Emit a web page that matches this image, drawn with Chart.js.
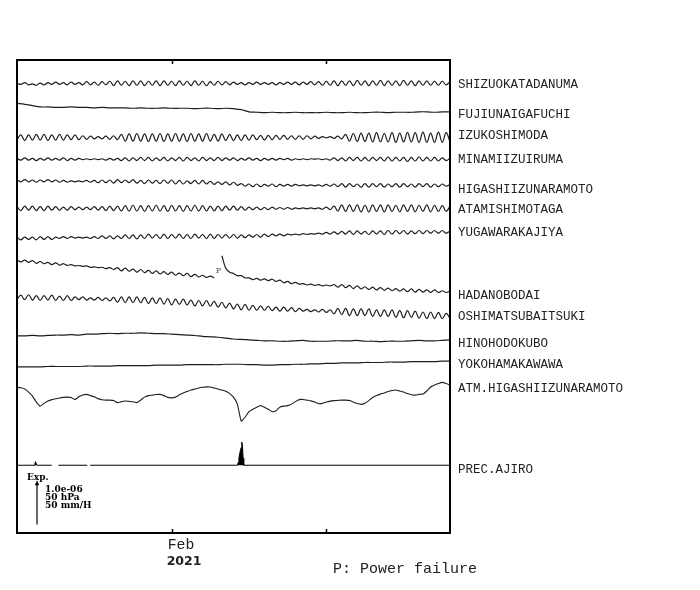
<!DOCTYPE html>
<html>
<head>
<meta charset="utf-8">
<script src="https://cdn.jsdelivr.net/npm/chart.js@4/dist/chart.umd.min.js"></script>
<style>
  html, body { margin: 0; padding: 0; background: #fff; }
  canvas { display: block; }
</style>
</head>
<body>
<canvas id="chart-strain" width="700" height="590"></canvas>
<script>
/* ====================================================
   Strain records, Izu / Kanagawa stations, Jan-Feb 2021
   ==================================================== */

// Time axis: days since 2021-01-01 00:00 (Feb 1 = 31)
const DAY_START = 21;
const DAY_END = 49;
const TIDE_STEP = 0.25;   // 6 h samples
const SLOW_STEP = 0.5;    // 12 h samples

const tickDays = [31, 41];
const tickLabels = ['Feb', ''];
const yearLabel = '2021';

const stationNames = [
    'SHIZUOKATADANUMA', 'FUJIUNAIGAFUCHI', 'IZUKOSHIMODA', 'MINAMIIZUIRUMA',
    'HIGASHIIZUNARAMOTO', 'ATAMISHIMOTAGA', 'YUGAWARAKAJIYA', 'HADANOBODAI',
    'OSHIMATSUBAITSUKI', 'HINOHODOKUBO', 'YOKOHAMAKAWAWA', 'ATM.HIGASHIIZUNARAMOTO',
    'PREC.AJIRO'
];

// Strain, units of 1e-8 (extension up), 6 h samples
const shizuokaTadanuma = [
    0,-2,2,-3,-1,-4,1,-3,2,-2,3,-2,2,-3,3,-2,2,-3,4,-3,3,-4,4,-3,5,
    -5,6,-4,5,-5,6,-4,6,-5,5,-4,6,-5,6,-4,5,-5,6,-4,5,-5,6,-4,5,-5,4,-4,5,-3,4,
    -3,3,-2,2,-3,2,-2,3,-2,2,-2,2,-3,2,-2,3,-2,3,-3,3,-2,4,-3,4,-4,
    5,-4,6,-5,6,-4,6,-5,7,-4,6,-5,6,-4,7,-5,6,-4,6,-5,7,-4,6,-5,6,-4,6,-4,5,-4,5,-3,4
];
// 12 h samples
const fujiunaigafuchi = [
    0,-2,-5,-8,-8,-9,-9,-8,-9,-9,-10,-9,-10,-10,-10,-11,-10,-11,-11,-10,
    -11,-11,-11,-12,-11,-11,-12,-11,-12,-14,-19,-20,-21,-20,-21,-21,-20,-21,-21,-21,
    -20,-21,-21,-20,-21,-21,-20,-20,-21,-20,-20,-20,-19,-19,-20,-19,-19
];
const izukoshimoda = [
    -5,6,-7,6,-6,7,-6,7,-7,6,-6,7,-6,6,-5,6,-5,
    4,-4,3,-3,2,-3,3,-4,4,-5,
    7,-8,8,-8,9,-8,8,-9,8,-8,9,-9,8,-8,9,-8,8,-9,9,-8,8,-8,9,-8,7,-8,8,-7,7,-7,6,-7,6,-6,
    6,-5,5,-6,5,-5,5,-4,5,-4,4,-4,4,-4,4,
    -3,3,-2,2,-1,2,-2,3,-3,
    7,-8,9,-9,10,-9,10,-10,11,-10,9,-10,11,-11,10,-10,11,-10,11,-11,12,-11,10,-11,12,-11,11,-10
];
const minamiizuiruma = [
    2,-2,3,-2,2,-3,2,-2,3,-2,2,-2,3,-3,2,-2,2,
    -1,1,-1,1,-1,1,-2,2,-2,2,
    -3,3,-4,3,-3,4,-3,4,-4,3,-3,4,-4,3,-3,4,-4,4,-3,3,-4,4,-3,3,-3,4,-3,3,-2,3,-3,2,-2,3,
    -2,2,-3,2,-2,2,-2,2,-1,2,-2,1,
    -1,1,-1,1,0,1,-1,1,-2,
    3,-3,3,-4,4,-3,4,-4,4,-4,4,-3,4,-4,5,-4,4,-4,4,-5,4,-4,5,-4,4,-4,4,-4,3,-3,2
];
const higashiizunaramoto = [
    2,-2,3,-2,2,-3,2,-2,3,-2,2,
    -3,1,-3,0,-2,0,-2,1,-3,1,
    -4,2,-4,2,-5,3,-4,2,-4,3,
    -5,1,-6,2,-5,1,-6,2,-5,2,
    -7,1,-7,0,-6,1,-7,1,
    -7,-1,-8,-2,-8,-2,
    -9,-3,
    -10,-6,-12,
    -7,-13,-7,-13,-8,-12,-7,-13,-8,-12,-8,-12,-8,
    -11,-9,-11,-9,-11,-9,-12,-8,-12,
    -7,-13,-6,-14,-6,-13,-7,-14,-6,-14,-6,-13,-6,-14,-7,-13,-6,-14,-6,-13,-7,-14,-6,-13,-6,-14,-7,-13,-7,-12,-8
];
const atamishimotaga = [
    4,-5,5,-4,5,-5,4,-5,5,-4,4,-4,3,-4,4,-3,3,-3,3,-3,4,
    -4,4,-5,5,-5,5,
    -6,6,-6,7,-6,6,-7,6,-6,7,-6,6,-7,7,-6,6,-7,6,-6,7,-6,6,-6,5,-6,5,-5,5,-4,5,-4,4,-4,3,
    -3,3,-3,2,-3,3,-2,2,-2,2,-2,1,
    -1,1,-1,1,-1,1,-2,3,-3,
    5,-6,8,-7,8,-7,8,-8,7,-8,8,-7,8,-8,8,-7,7,-8,8,-7,8,-8,7,-7,8,-8,7,-7,6,-7,5
];
const yugawarakajiya = [
    3,-3,3,-2,3,-3,
    4,-2,4,-2,3,
    0,4,0,4,1,3,1,3,0,4,
    0,6,0,6,-1,6,
    0,8,0,8,-1,8,
    0,10,1,9,0,10,0,9,1,10,0,9,0,10,1,9,0,10,0,9,1,9,1,9,1,8,2,8,
    3,9,3,10,4,10,6,10,6,10,8,10,8,11,9,11,10,12,10,14,10,15,10,
    16,10,17,9,17,10,16,9,17,10,17,9,
    18,10,18,11,18,10,17,11,18,11,
    18,12,18,12,18,12,17
];
// null = power failure (P)
const hadanobodai = [
    2,-3,1,-4,0,-6,-2,-7,-4,-9,-5,-10,-7,-11,-9,
    -12,-11,-13,-12,-15,-14,-16,-15,-18,-16,-20,
    -16,-23,-17,-24,-19,-26,-20,-27,-22,-29,-23,-30,-25,-31,-26,-33,-28,-34,-29,-36,-31,-37,-33,-38,-35,-39,
    null,
    11,-17,-26,-29,-34,-34,-39,-39,
    -43,-40,-44,-41,-45,-42,-47,-44,-50,-47,-52,-49,
    -53,-52,-55,-53,-56,-54,-57,-55,-57,
    -54,-60,-54,-61,-56,-63,-57,-64,-59,-65,-60,-66,-61,-67,-62,-68,-63,-69,-64,-70,-64,-71,-65,-71,-66,-72,-66,-72,-68,-72,-69
];
const oshimatsubaitsuki = [
    -5,5,-5,6,-6,4,-7,4,-6,5,-7,3,-7,4,-7,
    1,-5,1,-6,-1,-6,0,-7,-1,-8,0,
    -11,1,-12,1,-12,1,-12,0,-14,-1,-14,-1,-15,-3,-17,-4,-16,-4,-17,-6,-19,-7,-19,-7,-20,-9,-22,-11,-24,-13,-26,-15,-28,-16,-29,
    -18,-29,-19,-29,-20,-30,-22,-31,-22,-31,-23,-32,
    -25,-31,-27,-32,-28,-33,-27,-34,-28,
    -37,-25,-39,-25,-41,-26,-41,-26,-41,-26,-43,-28,-43,-28,-43,-28,-45,-30,-46,-30,-45,-31,-47,-33,-48,-33,-48,-34,-48,-36,-47
];
// 12 h samples
const hinohodokubo = [
    0,0,1,0,1,2,2,3,2,4,4,5,6,5,6,6,7,6,5,5,
    4,3,2,1,-1,-2,-3,-5,-7,-8,-9,-10,-11,-11,-12,-12,-11,-10,-12,-12,
    -12,-11,-11,-11,-10,-12,-12,-13,-12,-12,-12,-11,-10,-11,-11,-10,-9
];
const yokohamakawawa = [
    0,0,0,0,1,1,1,1,1,2,2,2,2,3,3,3,3,3,4,4,
    4,4,5,5,5,5,5,6,6,6,5,5,4,4,5,5,6,6,7,7,
    8,8,9,9,9,10,10,10,11,11,11,12,12,12,12,13,13
];
// Atmospheric pressure, hPa, 6 h samples
const atmHigashiizu = [
    1016.5,1015.9,1014.5,1011.1,1006.6,999.8,995.2,998.3,1000.9,1002.6,
    1003.5,1004.5,1005.1,1005.4,1004.9,1002.6,1005.8,1007.7,1008.5,1007.1,
    1005.7,1003.7,1002.4,1002.0,1002.0,1001.5,999.2,1000.3,1001.1,1000.6,
    1000.1,999.2,1002.0,1005.4,1007.1,1007.7,1008.3,1008.5,1007.1,1005.1,
    1004.6,1005.4,1008.0,1010.0,1011.7,1013.4,1014.5,1015.7,1016.5,1017.0,
    1016.8,1015.7,1014.5,1013.4,1012.0,1009.4,1005.4,997.5,978.2,982.7,
    989.0,991.8,994.1,995.8,994.1,991.8,989.0,990.1,994.1,995.2,
    995.8,997.5,1000.3,1002.6,1002.8,1002.0,1001.2,999.8,998.1,998.3,
    999.8,1000.9,1001.5,1001.7,1002.0,1002.0,1001.5,999.8,998.1,997.2,
    998.6,1001.5,1004.9,1007.1,1008.8,1010.0,1011.7,1012.8,1013.4,1012.3,
    1011.1,1009.4,1008.0,1007.7,1008.5,1008.8,1012.3,1016.8,1019.1,1020.8,
    1022.1,1020.8,1019.1
];
const ATM_REF = 1016;

// Precipitation, mm/H (null = missing)
const precDay  = [21, 22.10, 22.16, 22.20, 22.24, 22.30, 23.25, 23.30, 23.68, 25.54, 25.60, 25.73,
                  35.25, 35.30, 35.35, 35.40, 35.45, 35.50, 35.54, 35.58, 35.62, 35.66, 49];
const precRate = [0, 0, 2, 4, 2, 0, 0, null, 0, 0, null, 0,
                  0, 3, 8, 13, 17, 20, 26, 22, 8, 0, 0];

const powerFailureDay = 34.0;

// ---- layout: trace rows (axis units, 100 = 1.0e-06 = 50 hPa = 50 mm/H)
const Y_MAX = 1068;
const rowBase = [53, 98, 175, 224, 273, 335, 403, 453, 536, 623, 693, 740, 915];
const labelNudge = [1, 3, -1.5, 0.7, 4.7, 1.5, 0.8, 4.4, 1.3, 3.5, 2.9, 2.3, 4];
const LEGEND_BASE = 1049;

const strainSeries = [
    shizuokaTadanuma, fujiunaigafuchi, izukoshimoda, minamiizuiruma,
    higashiizunaramoto, atamishimotaga, yugawarakajiya, hadanobodai,
    oshimatsubaitsuki, hinohodokubo, yokohamakawawa
];
const strainStep = [TIDE_STEP, SLOW_STEP, TIDE_STEP, TIDE_STEP, TIDE_STEP, TIDE_STEP,
                    TIDE_STEP, TIDE_STEP, TIDE_STEP, SLOW_STEP, SLOW_STEP];

const LINE_COLOR = '#1e1e1e';

function buildPoints(values, step, base, toUnits) {
    return values.map((v, i) => ({
        x: DAY_START + i * step,
        y: v === null ? null : base - toUnits(v)
    }));
}

const datasets = [];
strainSeries.forEach((vals, k) => {
    datasets.push({
        label: stationNames[k],
        data: buildPoints(vals, strainStep[k], rowBase[k], v => v),
        borderColor: LINE_COLOR,
        borderWidth: 1.2,
        tension: strainStep[k] === TIDE_STEP ? 0.4 : 0.3,
        fill: false
    });
});

datasets.push({
    label: stationNames[11],
    data: buildPoints(atmHigashiizu, TIDE_STEP, rowBase[11], p => (p - ATM_REF) * 2),
    borderColor: LINE_COLOR,
    borderWidth: 1.1,
    tension: 0.15,
    fill: false
});

datasets.push({
    label: stationNames[12],
    data: precDay.map((d, i) => ({ x: d, y: precRate[i] === null ? null : rowBase[12] - precRate[i] * 2 })),
    borderColor: '#000',
    backgroundColor: '#000',
    borderWidth: 1,
    tension: 0,
    fill: { value: rowBase[12] },
    isRain: true
});

// level used to place the station name at the right end of a trace
function lastLevel(ds, k) {
    if (ds.isRain) return rowBase[k];
    const ys = ds.data.map(p => p.y).filter(v => v !== null).slice(-8);
    return ys.reduce((s, v) => s + v, 0) / ys.length;
}

/**
 * Frame, inner ticks, station names, scale legend and notes
 */
const overlay = {
    id: 'overlay',
    beforeDraw(chart) {
        const ctx = chart.ctx;
        ctx.save();
        ctx.fillStyle = '#fff';
        ctx.fillRect(0, 0, chart.width, chart.height);
        ctx.restore();
    },
    afterDraw(chart) {
        const { ctx, chartArea: a, scales: { x, y } } = chart;
        ctx.save();

        // frame
        ctx.strokeStyle = '#000';
        ctx.lineWidth = 2;
        ctx.strokeRect(a.left, a.top, a.right - a.left, a.bottom - a.top);

        // ticks (inside, top and bottom)
        ctx.lineWidth = 1.5;
        tickDays.forEach(d => {
            const px = Math.round(x.getPixelForValue(d)) + 0.5;
            ctx.beginPath();
            ctx.moveTo(px, a.top); ctx.lineTo(px, a.top + 4);
            ctx.moveTo(px, a.bottom); ctx.lineTo(px, a.bottom - 4);
            ctx.stroke();
        });

        // tick labels
        ctx.fillStyle = '#222';
        ctx.textBaseline = 'alphabetic';
        ctx.textAlign = 'left';
        ctx.font = '14.8px "Liberation Mono", "DejaVu Sans Mono", monospace';
        tickDays.forEach((d, i) => {
            if (tickLabels[i]) ctx.fillText(tickLabels[i], x.getPixelForValue(d) - 4, 548.5);
        });
        ctx.font = 'bold 12.5px "DejaVu Sans", sans-serif';
        ctx.fillText(yearLabel, x.getPixelForValue(tickDays[0]) - 5, 565);

        ctx.font = '15px "Liberation Mono", "DejaVu Sans Mono", monospace';
        ctx.fillText('P: Power failure', 333, 573);

        // station names at the right end of each trace
        ctx.font = '12.5px "Liberation Mono", "DejaVu Sans Mono", monospace';
        ctx.textBaseline = 'middle';
        chart.data.datasets.forEach((ds, k) => {
            const py = y.getPixelForValue(lastLevel(ds, k)) + labelNudge[k];
            ctx.fillText(stationNames[k], a.right + 8, py);
        });

        // power failure mark
        const hadano = chart.data.datasets[7].data;
        const before = hadano.filter(p => p.x < powerFailureDay && p.y !== null).slice(-1)[0];
        ctx.fillStyle = '#555';
        ctx.font = '8px "DejaVu Serif", serif';
        ctx.textAlign = 'center';
        ctx.fillText('P', x.getPixelForValue(powerFailureDay) + 0.5, y.getPixelForValue(before.y) - 7);

        // scale legend
        const ax = a.left + 20;
        const yBot = y.getPixelForValue(LEGEND_BASE);
        const yTop = y.getPixelForValue(LEGEND_BASE - 100);
        ctx.strokeStyle = '#000';
        ctx.fillStyle = '#000';
        ctx.lineWidth = 1.2;
        ctx.beginPath();
        ctx.moveTo(ax, yBot); ctx.lineTo(ax, yTop + 4);
        ctx.stroke();
        ctx.beginPath();
        ctx.moveTo(ax, yTop); ctx.lineTo(ax - 2.2, yTop + 5); ctx.lineTo(ax + 2.2, yTop + 5);
        ctx.closePath();
        ctx.fill();

        ctx.textAlign = 'left';
        ctx.textBaseline = 'alphabetic';
        ctx.font = 'bold 9px "DejaVu Serif", serif';
        ctx.fillText('Exp.', a.left + 10, yTop - 0.5);
        ctx.fillText('1.0e-06', ax + 8, yTop + 11.5);
        ctx.fillText('50 hPa', ax + 8, yTop + 19.5);
        ctx.fillText('50 mm/H', ax + 8, yTop + 27.5);

        ctx.restore();
    }
};

const canvas = document.getElementById('chart-strain');
new Chart(canvas.getContext('2d'), {
    type: 'line',
    data: { datasets },
    options: {
        responsive: false,
        animation: false,
        events: [],
        spanGaps: false,
        layout: { padding: { left: 17, right: 250, top: 60, bottom: 57 } },
        plugins: {
            legend: { display: false },
            tooltip: { enabled: false }
        },
        elements: { point: { radius: 0 } },
        scales: {
            x: { type: 'linear', min: DAY_START, max: DAY_END, display: false },
            y: { min: 0, max: Y_MAX, reverse: true, display: false }
        }
    },
    plugins: [overlay]
});
</script>
</body>
</html>
